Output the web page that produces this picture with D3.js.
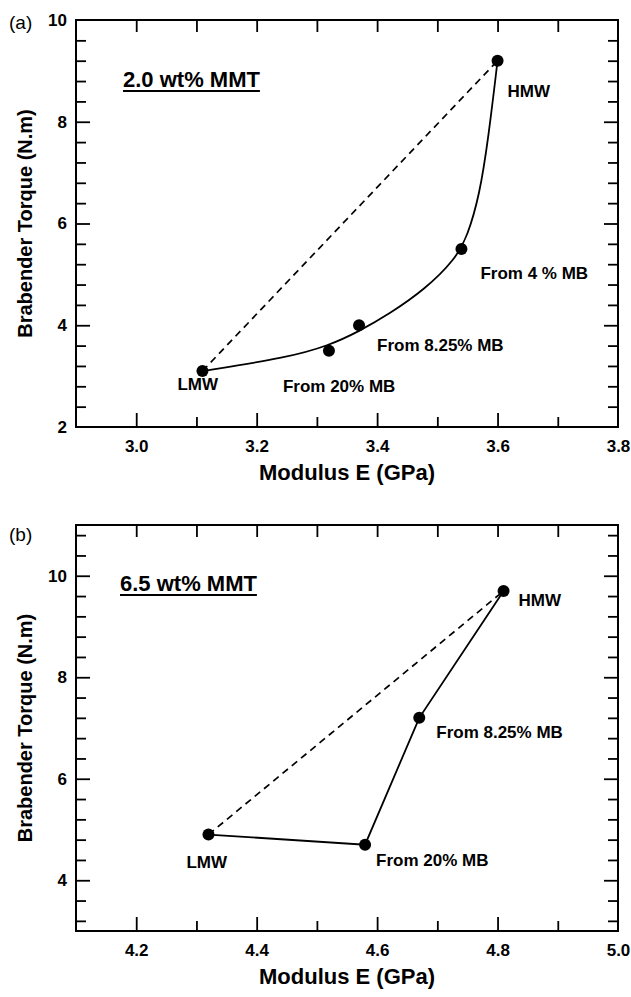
<!DOCTYPE html>
<html>
<head>
<meta charset="utf-8">
<script src="https://cdn.jsdelivr.net/npm/d3@7"></script>
<style>
  html, body { margin: 0; padding: 0; background: #fff; }
  svg { display: block; font-family: "Liberation Sans", Arial, sans-serif; }
</style>
</head>
<body>
<svg id="chart" width="631" height="997"></svg>
<script>
// ---------- DATA ----------
// Panel (a): 2.0 wt% MMT
const namesA   = ["LMW", "From 20% MB", "From 8.25% MB", "From 4 % MB", "HMW"];
const modulusA = [3.11, 3.32, 3.37, 3.54, 3.60];
const torqueA  = [3.1, 3.5, 4.0, 5.5, 9.2];
// trend curve drawn through panel (a)
const trendModulusA = [3.11, 3.25, 3.32, 3.37, 3.42, 3.48, 3.53, 3.55, 3.57, 3.585, 3.60];
const trendTorqueA  = [3.10, 3.36, 3.60, 3.88, 4.22, 4.71, 5.30, 5.75, 6.55, 7.70, 9.20];
const xTicksA  = [3.0, 3.2, 3.4, 3.6, 3.8];
const yTicksA  = [2, 4, 6, 8, 10];
const titleA   = "2.0 wt% MMT";

// Panel (b): 6.5 wt% MMT
const namesB   = ["LMW", "From 20% MB", "From 8.25% MB", "HMW"];
const modulusB = [4.32, 4.58, 4.67, 4.81];
const torqueB  = [4.9, 4.7, 7.2, 9.7];
const xTicksB  = [4.2, 4.4, 4.6, 4.8, 5.0];
const yTicksB  = [4, 6, 8, 10];
const titleB   = "6.5 wt% MMT";

const xLabel = "Modulus E (GPa)";
const yLabel = "Brabender Torque (N.m)";

// ---------- LAYOUT ----------
const svg = d3.select("#chart");
const L = 76, R = 618;

const panels = [
  { letter: "(a)", names: namesA, xs: modulusA, ys: torqueA,
    lineXs: trendModulusA, lineYs: trendTorqueA, curve: d3.curveBasis,
    xTicks: xTicksA, yTicks: yTicksA,
    title: titleA, xDom: [2.9, 3.8], yDom: [2, 10], top: 20, bottom: 427,
    letterY: 29, titlePos: [123, 87],
    labelOff: [[-25, 19], [-46, 41], [18, 26], [19, 30], [10, 36]] },
  { letter: "(b)", names: namesB, xs: modulusB, ys: torqueB,
    lineXs: modulusB, lineYs: torqueB, curve: d3.curveLinear,
    xTicks: xTicksB, yTicks: yTicksB,
    title: titleB, xDom: [4.1, 5.0], yDom: [3, 11], top: 525, bottom: 931,
    letterY: 541, titlePos: [120, 591],
    labelOff: [[-22, 33], [11, 21], [17, 20], [15, 15]] }
];

panels.forEach(p => {
  const x = d3.scaleLinear().domain(p.xDom).range([L, R]);
  const y = d3.scaleLinear().domain(p.yDom).range([p.bottom, p.top]);
  const g = svg.append("g");

  const near = (a, b) => Math.abs(a - b) < 1e-6;
  const xAll = d3.range(Math.ceil(p.xDom[0] * 10 + 1e-6), Math.floor(p.xDom[1] * 10 + 1e-6) + 1).map(k => k / 10)
                 .filter(v => !near(v, p.xDom[0]) && !near(v, p.xDom[1]));
  const yAll = d3.range(Math.ceil(p.yDom[0] / 0.4 - 1e-6), Math.floor(p.yDom[1] / 0.4 + 1e-6) + 1).map(k => +(k * 0.4).toFixed(2))
                 .filter(v => !near(v, p.yDom[0]) && !near(v, p.yDom[1]));
  const xMaj = xAll.filter(v => p.xTicks.some(t => near(t, v)));
  const xMin = xAll.filter(v => !p.xTicks.some(t => near(t, v)));
  const yMaj = yAll.filter(v => p.yTicks.some(t => near(t, v)));
  const yMin = yAll.filter(v => !p.yTicks.some(t => near(t, v)));

  const tickStyle = sel => {
    sel.select(".domain").remove();
    sel.selectAll(".tick line").attr("stroke", "#000").attr("stroke-width", 1.8);
  };

  g.append("g").attr("transform", `translate(0,${p.bottom})`)
    .call(d3.axisBottom(x).tickValues(xMaj).tickSize(-14).tickFormat("")).call(tickStyle);
  g.append("g").attr("transform", `translate(0,${p.bottom})`)
    .call(d3.axisBottom(x).tickValues(xMin).tickSize(-10).tickFormat("")).call(tickStyle);
  g.append("g").attr("transform", `translate(0,${p.top})`)
    .call(d3.axisTop(x).tickValues(xAll).tickSize(-12).tickFormat("")).call(tickStyle);
  g.append("g").attr("transform", `translate(${L},0)`)
    .call(d3.axisLeft(y).tickValues(yMaj).tickSize(-14).tickFormat("")).call(tickStyle);
  g.append("g").attr("transform", `translate(${L},0)`)
    .call(d3.axisLeft(y).tickValues(yMin).tickSize(-10).tickFormat("")).call(tickStyle);
  g.append("g").attr("transform", `translate(${R},0)`)
    .call(d3.axisRight(y).tickValues(yMaj).tickSize(-14).tickFormat("")).call(tickStyle);
  g.append("g").attr("transform", `translate(${R},0)`)
    .call(d3.axisRight(y).tickValues(yMin).tickSize(-10).tickFormat("")).call(tickStyle);

  const xl = g.append("g").attr("transform", `translate(0,${p.bottom})`)
    .call(d3.axisBottom(x).tickValues(p.xTicks).tickSize(0).tickPadding(13).tickFormat(d3.format(".1f")));
  xl.select(".domain").remove();
  xl.selectAll("text").attr("font-size", 17).attr("font-weight", "bold").attr("fill", "#000")
    .attr("font-family", "Liberation Sans, Arial, sans-serif");
  const yl = g.append("g").attr("transform", `translate(${L},0)`)
    .call(d3.axisLeft(y).tickValues(p.yTicks).tickSize(0).tickPadding(9).tickFormat(d3.format("d")));
  yl.select(".domain").remove();
  yl.selectAll("text").attr("font-size", 17).attr("font-weight", "bold").attr("fill", "#000")
    .attr("font-family", "Liberation Sans, Arial, sans-serif");

  g.append("rect").attr("x", L).attr("y", p.top).attr("width", R - L).attr("height", p.bottom - p.top)
    .attr("fill", "none").attr("stroke", "#000").attr("stroke-width", 2);

  g.append("text").attr("x", (L + R) / 2).attr("y", p.bottom + 53).attr("text-anchor", "middle")
    .attr("font-size", 22).attr("font-weight", "bold").text(xLabel);
  g.append("text").attr("transform", `translate(32,${(p.top + p.bottom) / 2}) rotate(-90)`)
    .attr("text-anchor", "middle").attr("font-size", 20).attr("font-weight", "bold").text(yLabel);

  g.append("text").attr("x", 9).attr("y", p.letterY).attr("font-size", 19).text(p.letter);

  const tt = g.append("text").attr("x", p.titlePos[0]).attr("y", p.titlePos[1])
    .attr("font-size", 22).attr("font-weight", "bold").text(p.title);
  const tw = tt.node().getComputedTextLength();
  g.append("line").attr("x1", p.titlePos[0]).attr("x2", p.titlePos[0] + tw)
    .attr("y1", p.titlePos[1] + 4).attr("y2", p.titlePos[1] + 4)
    .attr("stroke", "#000").attr("stroke-width", 2);

  const pts = p.xs.map((v, i) => [x(v), y(p.ys[i])]);
  const last = p.xs.length - 1;
  g.append("line").attr("x1", pts[0][0]).attr("y1", pts[0][1])
    .attr("x2", pts[last][0]).attr("y2", pts[last][1])
    .attr("stroke", "#000").attr("stroke-width", 1.7).attr("stroke-dasharray", "7,5");
  const linePts = p.lineXs.map((v, i) => [x(v), y(p.lineYs[i])]);
  g.append("path").attr("d", d3.line().curve(p.curve)(linePts))
    .attr("fill", "none").attr("stroke", "#000").attr("stroke-width", 1.8);
  g.selectAll("circle.pt").data(pts).enter().append("circle")
    .attr("cx", d => d[0]).attr("cy", d => d[1]).attr("r", 6).attr("fill", "#000");
  g.selectAll("text.lbl").data(p.names).enter().append("text")
    .attr("x", (d, i) => pts[i][0] + p.labelOff[i][0])
    .attr("y", (d, i) => pts[i][1] + p.labelOff[i][1])
    .attr("font-size", 17).attr("font-weight", "bold").text(d => d);
});
</script>
</body>
</html>
